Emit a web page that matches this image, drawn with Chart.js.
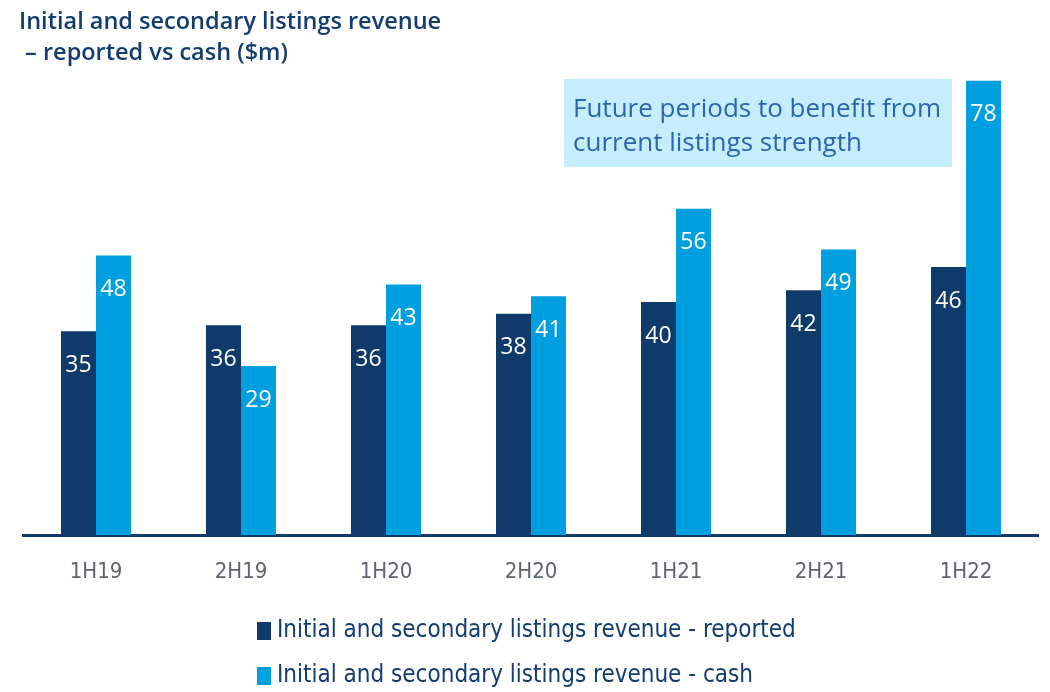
<!DOCTYPE html>
<html>
<head>
<meta charset="utf-8">
<script src="https://cdn.jsdelivr.net/npm/chart.js@4/dist/chart.umd.min.js"></script>
<style>
html,body{margin:0;padding:0;background:#fff;}
#wrap{position:relative;width:1050px;height:692px;}
</style>
</head>
<body>
<div id="wrap"><canvas id="c" width="1050" height="692"></canvas></div>
<script>
const categories = ['1H19','2H19','1H20','2H20','1H21','2H21','1H22'];
const reported = [35, 36, 36, 38, 40, 42, 46];
const cash = [48, 29, 43, 41, 56, 49, 78];
const seriesNames = ['Initial and secondary listings revenue - reported', 'Initial and secondary listings revenue - cash'];
const titleLines = ['Initial and secondary listings revenue', ' \u2013 reported vs cash ($m)'];
const noteLines = ['Future periods to benefit from', 'current listings strength'];

const NAVY = '#0f3a6a';
const BLUE = '#00a0e0';

const overlay = {
  id: 'overlay',
  afterDatasetsDraw(chart) {
    const ctx = chart.ctx;
    ctx.save();
    // data labels
    ctx.fillStyle = '#ffffff';
    ctx.font = '23px "Open Sans", sans-serif';
    ctx.textAlign = 'center';
    ctx.textBaseline = 'middle';
    chart.data.datasets.forEach((ds, di) => {
      const meta = chart.getDatasetMeta(di);
      meta.data.forEach((el, i) => {
        ctx.fillText(String(ds.data[i]), el.x, el.y + 34);
      });
    });
    // title
    ctx.fillStyle = '#123d6e';
    ctx.font = '600 23.5px "Open Sans", sans-serif';
    ctx.textAlign = 'left';
    ctx.textBaseline = 'alphabetic';
    ctx.fillText(titleLines[0], 19, 29);
    ctx.fillText(titleLines[1], 19, 60);
    // annotation box
    ctx.fillStyle = '#c6edfc';
    ctx.fillRect(564, 79, 388, 88);
    ctx.fillStyle = '#2a66ad';
    ctx.font = '26px "Open Sans", sans-serif';
    ctx.fillText(noteLines[0], 573, 117);
    ctx.fillText(noteLines[1], 573, 151);
    // legend
    const colors = [NAVY, BLUE];
    ctx.font = '24px "Liberation Sans Narrow", "DejaVu Sans Condensed", sans-serif';
    seriesNames.forEach((n, i) => {
      const y = 631 + i * 45;
      ctx.fillStyle = colors[i];
      ctx.fillRect(257, y - 9, 14, 18);
      ctx.fillStyle = '#123d6e';
      ctx.textBaseline = 'middle';
      ctx.fillText(n, 277, y);
    });
    ctx.restore();
  }
};

new Chart(document.getElementById('c'), {
  type: 'bar',
  data: {
    labels: categories,
    datasets: [
      { label: seriesNames[0], data: reported, backgroundColor: NAVY, categoryPercentage: 70/145, barPercentage: 1 },
      { label: seriesNames[1], data: cash, backgroundColor: BLUE, categoryPercentage: 70/145, barPercentage: 1 }
    ]
  },
  options: {
    responsive: false,
    animation: false,
    layout: { padding: { left: 23.5, right: 11.5, top: 69, bottom: 97 } },
    plugins: { legend: { display: false }, title: { display: false }, tooltip: { enabled: false } },
    scales: {
      x: {
        grid: { display: false, drawTicks: false },
        border: { display: true, color: NAVY, width: 3 },
        ticks: { color: '#5b6470', padding: 24, font: { size: 22, family: '"Liberation Sans Narrow", "DejaVu Sans Condensed", sans-serif' } },
        afterFit(s) { s.height = 60; }
      },
      y: { display: false, min: 0, max: 80 }
    }
  },
  plugins: [overlay]
});
</script>
</body>
</html>
